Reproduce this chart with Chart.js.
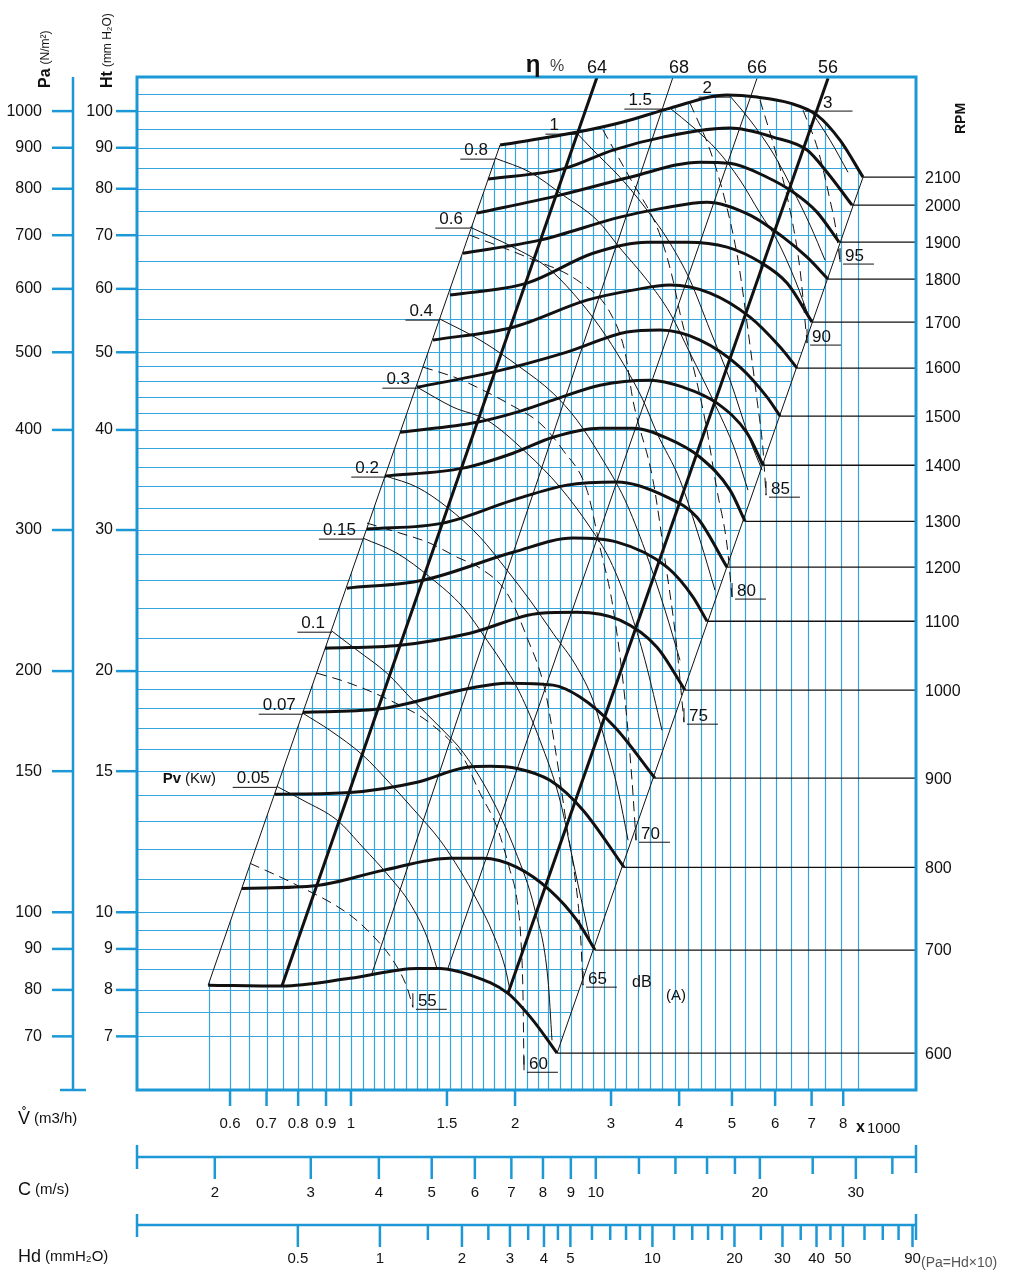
<!DOCTYPE html>
<html>
<head>
<meta charset="utf-8">
<title>Fan performance chart</title>
<script src="https://cdn.jsdelivr.net/npm/chart.js@4.4.1/dist/chart.umd.min.js"></script>
<style>
  html, body { margin: 0; padding: 0; background: #ffffff; }
  #box { position: relative; width: 1024px; height: 1276px; }
</style>
</head>
<body>
<div id="box"><canvas id="fan"></canvas></div>
<script>
// flow in 1000 m3/h, total pressure Ht in mmH2O
const flowTicks = [0.6, 0.7, 0.8, 0.9, 1, 1.5, 2, 3, 4, 5, 6, 7, 8];
const headTicks = [100, 90, 80, 70, 60, 50, 40, 30, 20, 15, 10, 9, 8, 7];
const paTicks = [1000, 900, 800, 700, 600, 500, 400, 300, 200, 150, 100, 90, 80, 70];
const speedTicks = [2, 3, 4, 5, 6, 7, 8, 9, 10, 20, 30];
const speedMinor = [12, 14, 16, 18, 25, 35];
const hdTicks = [0.5, 1, 2, 3, 4, 5, 10, 20, 30, 40, 50, 90];
const hdMinor = [1.5, 2.5, 3.5, 4.5, 6, 7, 8, 9, 12, 14, 16, 18, 25, 35, 45, 60, 70, 80];
const speedPerFlow = 3.555; // C (m/s) per 1000 m3/h
const flowAtHd1 = 1.13;     // flow where Hd = 1 mmH2O

const gridFlow = [0.55, 0.6, 0.65, 0.7, 0.75, 0.8, 0.85, 0.9, 0.95, 1, 1.05, 1.1, 1.15, 1.2, 1.26, 1.32,
  1.38, 1.45, 1.52, 1.59, 1.67, 1.75, 1.83, 1.92, 2, 2.1, 2.2, 2.3, 2.42, 2.53, 2.65, 2.78, 2.91, 3.05,
  3.2, 3.36, 3.54, 3.72, 3.93, 4.15, 4.39, 4.65, 4.96, 5.28, 5.63, 6.02, 6.43, 6.88, 7.4, 7.93, 8.5];
const gridHead = [7, 7.5, 8, 8.5, 9, 9.5, 10, 11, 12, 13, 14, 15, 16, 17, 18, 19, 20, 22, 24, 26, 28, 30,
  32, 34, 36, 38, 40, 42, 44, 46, 48, 50, 55, 60, 65, 70, 75, 80, 85, 90, 95, 100, 105];

// fan curves, [flow, Ht]
const rpm600 = [[0.547, 8.11], [0.747, 8.09], [0.996, 8.27], [1.322, 8.51], [1.457, 8.51], [1.653, 8.35], [1.941, 7.92], [2.158, 7.33], [2.388, 6.67]];
const rpm700 = [[0.631, 10.71], [0.866, 10.80], [1.145, 11.28], [1.519, 11.68], [1.747, 11.68], [2.017, 11.38], [2.318, 10.65], [2.598, 9.77], [2.804, 8.97]];
const rpm800 = [[0.725, 14.04], [0.996, 14.11], [1.322, 14.53], [1.633, 15.17], [1.799, 15.21], [2.017, 15.12], [2.318, 14.61], [2.665, 13.41], [3.17, 11.38]];
const rpm900 = [[0.816, 17.77], [1.121, 17.93], [1.653, 19.04], [1.933, 19.32], [2.348, 19.21], [2.632, 18.56], [3.05, 17.02], [3.612, 14.70]];
const rpm1000 = [[0.896, 21.36], [1.23, 21.54], [1.653, 22.30], [2.222, 23.62], [2.598, 23.69], [3.116, 23.15], [3.643, 21.42], [4.101, 18.93]];
const rpm1100 = [[0.983, 25.38], [1.356, 25.97], [1.983, 28.14], [2.555, 29.31], [3.077, 28.97], [3.801, 26.96], [4.242, 24.74], [4.5, 23.08]];
const rpm1200 = [[1.07, 30.08], [1.475, 30.60], [1.983, 32.69], [2.49, 34.13], [3.077, 34.43], [3.801, 32.97], [4.313, 31.12], [4.897, 26.96]];
const rpm1300 = [[1.154, 35.03], [1.605, 35.84], [1.983, 37.41], [2.348, 39.17], [2.863, 40.20], [3.291, 40.20], [3.801, 39.06], [4.369, 36.98], [4.96, 33.64], [5.284, 30.76]];
const rpm1400 = [[1.23, 39.74], [1.703, 40.90], [2.017, 42.10], [2.348, 43.58], [2.863, 45.49], [3.537, 46.15], [4.067, 45.23], [4.694, 43.20], [5.33, 39.63], [5.702, 36.14]];
const rpm1500 = [[1.322, 45.23], [1.822, 47.23], [2.49, 50.03], [3.209, 52.99], [3.69, 53.30], [4.369, 51.79], [5.173, 47.91], [5.799, 43.95], [6.127, 41.62]];
const rpm1600 = [[1.414, 51.79], [1.983, 53.74], [2.71, 58.08], [3.291, 59.78], [3.849, 60.65], [4.557, 59.27], [5.397, 55.31], [6.127, 50.75], [6.581, 47.78]];
const rpm1700 = [[1.519, 58.94], [2.103, 61.00], [2.78, 66.47], [3.493, 68.62], [4.136, 68.62], [4.897, 67.64], [5.629, 64.80], [6.31, 61.00], [7.014, 54.53]];
const rpm1800 = [[1.605, 66.47], [2.222, 69.02], [3.116, 73.74], [3.737, 75.67], [4.5, 76.98], [5.397, 74.17], [6.205, 69.61], [6.867, 65.71], [7.504, 61.70]];
const rpm1900 = [[1.703, 74.58], [2.418, 78.55], [3.25, 82.69], [4.369, 86.36], [4.96, 86.06], [5.799, 82.69], [6.471, 79.24], [7.161, 74.80], [7.861, 68.62]];
const rpm2000 = [[1.784, 82.27], [2.47, 84.83], [3.025, 89.41], [3.737, 92.80], [4.96, 95.23], [5.947, 92.80], [6.867, 89.41], [7.471, 83.87], [8.305, 76.32]];
const rpm2100 = [[1.877, 90.70], [2.609, 94.15], [3.156, 96.90], [3.849, 100.87], [4.897, 104.71], [5.559, 104.11], [6.39, 102.33], [7.161, 98.86], [7.893, 91.99], [8.699, 82.71]];
const rpmLabels = [600, 700, 800, 900, 1000, 1100, 1200, 1300, 1400, 1500, 1600, 1700, 1800, 1900, 2000, 2100];
const rpmCurves = [rpm600, rpm700, rpm800, rpm900, rpm1000, rpm1100, rpm1200, rpm1300, rpm1400, rpm1500, rpm1600, rpm1700, rpm1800, rpm1900, rpm2000, rpm2100];

const leftEdge = [[0.547, 8.11], [1.877, 90.70]];
const rightEdge = [[2.388, 6.67], [8.699, 82.71]];

// efficiency lines (eta %)
const eta64 = [[0.747, 8.09], [2.828, 110.3]];
const eta68 = [[1.093, 8.39], [3.898, 110.3]];
const eta66 = [[1.506, 8.51], [5.559, 109.9]];
const eta56 = [[1.941, 7.92], [7.504, 109.9]];

// shaft power lines Pv (kW)
const pv005 = [[0.731, 14.36], [0.816, 13.80], [0.943, 13.03], [1.052, 12.05], [1.179, 11.06], [1.283, 10.26], [1.379, 9.31], [1.438, 8.51]];
const pv007 = [[0.816, 17.72], [0.915, 16.87], [1.052, 15.70], [1.179, 14.49], [1.322, 13.29], [1.457, 12.30], [1.585, 11.28], [1.703, 10.35], [1.822, 9.41], [1.917, 8.54], [1.958, 7.99]];
const pv01 = [[0.923, 22.43], [1.026, 21.24], [1.164, 19.88], [1.299, 18.39], [1.457, 17.02], [1.605, 15.84], [1.799, 14.00], [2.0, 11.95], [2.176, 10.06], [2.299, 8.23], [2.338, 6.92]];
const pv015 = [[1.052, 29.31], [1.214, 28.07], [1.396, 26.20], [1.605, 24.03], [1.776, 21.86], [1.933, 20.05], [2.042, 18.77], [2.222, 16.39], [2.418, 13.80], [2.576, 11.28], [2.745, 9.23]];
const pv02 = [[1.159, 35.03], [1.322, 33.93], [1.501, 32.03], [1.725, 29.39], [1.933, 26.73], [2.13, 24.52], [2.348, 22.30], [2.598, 20.22], [2.78, 18.39], [2.924, 16.39], [3.09, 14.20], [3.224, 12.30]];
const pv03 = [[1.322, 45.23], [1.539, 42.71], [1.776, 41.14], [2.103, 37.41], [2.418, 33.93], [2.745, 30.24], [2.987, 27.51], [3.25, 23.82], [3.463, 20.63], [3.721, 16.87]];
const pv04 = [[1.457, 55.0], [1.725, 51.79], [2.042, 47.91], [2.348, 44.45], [2.598, 41.14], [2.863, 37.19], [3.183, 32.69], [3.463, 28.31], [3.769, 23.82], [4.015, 20.63]];
const pv06 = [[1.653, 71.65], [1.983, 67.64], [2.289, 63.86], [2.555, 59.27], [2.863, 53.74], [3.156, 48.45], [3.434, 43.58], [3.643, 39.63], [4.015, 34.61], [4.369, 29.14], [4.655, 25.23]];
const pv08 = [[1.837, 87.36], [2.13, 83.90], [2.449, 78.55], [2.828, 73.10], [3.116, 67.45], [3.493, 61.52], [3.849, 55.95], [4.188, 49.88], [4.616, 43.58], [5.066, 37.74], [5.35, 33.64]];
const pv1 = [[2.598, 93.86], [2.78, 89.41], [3.116, 82.69], [3.493, 75.24], [3.849, 68.42], [4.188, 61.52], [4.557, 53.30], [4.96, 46.15], [5.397, 38.84], [5.68, 35.63]];
const pv15 = [[3.849, 100.87], [4.242, 95.50], [4.694, 89.41], [5.173, 82.03], [5.629, 74.58], [6.05, 69.02], [6.53, 61.52], [6.955, 54.84]];
const pv2 = [[4.96, 104.4], [5.397, 97.45], [5.947, 88.63], [6.471, 79.68], [6.955, 72.07], [7.408, 65.16]];
const pv3 = [[7.044, 99.15], [7.567, 91.99], [8.165, 83.87]];
const pvLabels = ["0.05", "0.07", "0.1", "0.15", "0.2", "0.3", "0.4", "0.6", "0.8", "1", "1.5", "2", "3"];
const pvCurves = [pv005, pv007, pv01, pv015, pv02, pv03, pv04, pv06, pv08, pv1, pv15, pv2, pv3];

// sound level lines dB(A)
const db55 = [[0.653, 11.51], [0.783, 10.87], [0.996, 9.92], [1.116, 9.23], [1.194, 8.71], [1.267, 8.06], [1.299, 7.61]];
const db60 = [[0.866, 19.88], [0.983, 19.37], [1.179, 18.39], [1.396, 17.22], [1.605, 15.61], [1.725, 14.08], [1.853, 12.77], [1.958, 11.28], [2.017, 10.35], [2.052, 9.15], [2.068, 7.92], [2.077, 6.35]];
const db65 = [[1.07, 30.60], [1.214, 29.82], [1.396, 28.89], [1.565, 27.75], [1.725, 26.89], [1.933, 25.02], [2.103, 22.04], [2.27, 18.93], [2.388, 15.48], [2.49, 12.77], [2.576, 11.06], [2.632, 9.58], [2.665, 8.11]];
const db70 = [[1.356, 47.91], [1.565, 46.42], [1.747, 44.84], [1.983, 42.83], [2.222, 40.78], [2.449, 37.74], [2.71, 33.64], [2.863, 28.56], [3.025, 24.03], [3.183, 18.39], [3.278, 14.61], [3.334, 12.30]];
const db75 = [[1.653, 70.01], [2.103, 65.71], [2.632, 61.16], [2.99, 56.0], [3.183, 50.0], [3.291, 43.58], [3.582, 34.61], [3.769, 27.51], [3.948, 21.86], [4.083, 17.27]];
const db80 = [[2.9, 94.69], [3.25, 82.49], [3.643, 71.65], [3.801, 65.71], [3.898, 61.52], [4.015, 55.95], [4.188, 49.88], [4.463, 41.14], [4.694, 33.64], [4.897, 28.72], [5.002, 24.74]];
const db85 = [[4.188, 102.33], [4.557, 89.41], [4.856, 77.42], [5.13, 65.16], [5.35, 53.30], [5.559, 43.58], [5.702, 37.74], [5.774, 33.16]];
const db90 = [[5.629, 103.2], [5.998, 89.41], [6.39, 75.24], [6.667, 63.32], [6.867, 51.34]];
const db95 = [[6.751, 100.3], [7.193, 89.41], [7.567, 77.42], [7.762, 71.03], [7.893, 64.80]];
const dbLabels = ["55", "60", "65", "70", "75", "80", "85", "90", "95"];
const dbCurves = [db55, db60, db65, db70, db75, db80, db85, db90, db95];

const BLUE = "#1b98d5";
const GRID = "#35a5dc";
const INK = "#111111";
const FONT = '"Liberation Sans", Arial, sans-serif';

const datasets = [];
function addLine(arr, width, smooth, dash) {
  datasets.push({
    data: arr.map(p => ({ x: p[0], y: p[1] })),
    borderColor: INK,
    backgroundColor: INK,
    borderWidth: width,
    borderDash: dash || [],
    pointRadius: 0,
    fill: false,
    tension: 0,
    cubicInterpolationMode: smooth ? "monotone" : "default",
  });
}

pvCurves.forEach(c => addLine(c, 1, true));
dbCurves.forEach(c => addLine(c, 1, true, [10, 6]));
addLine(leftEdge, 1, false);
addLine(rightEdge, 1, false);
addLine(eta68, 1, false);
addLine(eta66, 1, false);
addLine(eta64, 3, false);
addLine(eta56, 3, false);
rpmCurves.forEach(c => {
  const end = c[c.length - 1];
  addLine([end, [10.88, end[1]]], 1.3, false);
  addLine(c, 3, true);
});

function seg(ctx, x1, y1, x2, y2) {
  ctx.beginPath();
  ctx.moveTo(x1, y1);
  ctx.lineTo(x2, y2);
  ctx.stroke();
}
function put(ctx, s, x, y, size, align, base, weight, color) {
  ctx.font = (weight || "normal") + " " + size + "px " + FONT;
  ctx.textAlign = align || "left";
  ctx.textBaseline = base || "middle";
  ctx.fillStyle = color || INK;
  ctx.fillText(s, x, y);
  return ctx.measureText(s).width;
}
function parts(ctx, list, x, y, rotate) {
  ctx.save();
  ctx.translate(x, y);
  if (rotate) ctx.rotate(-Math.PI / 2);
  let cx = 0;
  list.forEach(([s, size, weight]) => {
    cx += put(ctx, s, cx, 0, size, "left", "middle", weight) + 4;
  });
  ctx.restore();
}

// graph paper, clipped to the fan field like the printed sheet
const paper = {
  id: "paper",
  beforeDatasetsDraw(chart) {
    const { ctx, chartArea: a, scales: { x, y } } = chart;
    const P = p => [x.getPixelForValue(p[0]), y.getPixelForValue(p[1])];
    const atY = (p, q, yy) => p[0] + (q[0] - p[0]) * (yy - p[1]) / (q[1] - p[1]);
    const lb0 = P(leftEdge[0]), lb1 = P(leftEdge[1]);
    const rb0 = P(rightEdge[0]), rb1 = P(rightEdge[1]);
    const top = rpm2100.map(P);
    let pk = 0;
    rpm2100.forEach((p, i) => { if (p[1] > rpm2100[pk][1]) pk = i; });

    ctx.save();
    ctx.strokeStyle = GRID;
    ctx.lineWidth = 1.2;

    ctx.save();
    ctx.beginPath();
    ctx.moveTo(atY(lb0, lb1, a.bottom), a.bottom);
    top.forEach(p => ctx.lineTo(p[0], p[1]));
    ctx.lineTo(top[top.length - 1][0], a.bottom);
    ctx.closePath();
    ctx.clip();
    ctx.beginPath();
    gridFlow.forEach(q => {
      const xx = Math.round(x.getPixelForValue(q)) + 0.5;
      ctx.moveTo(xx, a.top);
      ctx.lineTo(xx, a.bottom);
    });
    ctx.stroke();
    ctx.restore();

    ctx.save();
    ctx.beginPath();
    ctx.moveTo(a.left, a.top);
    ctx.lineTo(top[pk][0], a.top);
    for (let i = pk; i < top.length; i++) ctx.lineTo(top[i][0], top[i][1]);
    ctx.lineTo(rb1[0], rb1[1]);
    ctx.lineTo(rb0[0], rb0[1]);
    ctx.lineTo(atY(rb0, rb1, a.bottom), a.bottom);
    ctx.lineTo(a.left, a.bottom);
    ctx.closePath();
    ctx.clip();
    ctx.beginPath();
    gridHead.forEach(h => {
      const yy = Math.round(y.getPixelForValue(h)) + 0.5;
      ctx.moveTo(a.left, yy);
      ctx.lineTo(a.right, yy);
    });
    ctx.stroke();
    ctx.restore();

    ctx.restore();
  },
};

const texts = {
  id: "texts",
  afterDraw(chart) {
    const { ctx, chartArea: a, scales: { x, y } } = chart;
    const P = p => [x.getPixelForValue(p[0]), y.getPixelForValue(p[1])];
    ctx.save();

    // frame and scales
    ctx.strokeStyle = BLUE;
    ctx.lineWidth = 3;
    ctx.strokeRect(a.left, a.top, a.right - a.left, a.bottom - a.top);
    ctx.lineWidth = 2.5;
    seg(ctx, 73, a.top, 73, a.bottom + 1);
    seg(ctx, 60, a.bottom, 86, a.bottom);
    headTicks.forEach((h, i) => {
      const yy = y.getPixelForValue(h);
      ctx.strokeStyle = BLUE;
      seg(ctx, 116, yy, a.left, yy);
      seg(ctx, 52, yy, 73, yy);
      put(ctx, String(h), 113, yy, 16, "right");
      put(ctx, String(paTicks[i]), 42, yy, 16, "right");
    });
    parts(ctx, [["Ht", 16, "bold"], ["(mm H\u2082O)", 12]], 108, 88, true);
    parts(ctx, [["Pa", 16, "bold"], ["(N/m\u00b2)", 12]], 46, 88, true);
    parts(ctx, [["RPM", 14, "bold"]], 961, 134, true);

    flowTicks.forEach(q => {
      const xx = x.getPixelForValue(q);
      ctx.strokeStyle = BLUE;
      seg(ctx, xx, a.bottom, xx, a.bottom + 16);
      put(ctx, String(q), xx, 1124, 15, "center");
    });
    put(ctx, "x", 856, 1128, 16, "left", "middle", "bold");
    put(ctx, "1000", 867, 1129, 15);
    parts(ctx, [["V\u030a", 18], ["(m3/h)", 15]], 18, 1119);

    const cy = 1157;
    ctx.strokeStyle = BLUE;
    seg(ctx, a.left, cy, a.right, cy);
    seg(ctx, a.left, cy - 12, a.left, cy + 12);
    seg(ctx, a.right, cy - 12, a.right, cy + 16);
    speedTicks.forEach(c => {
      const xx = x.getPixelForValue(c / speedPerFlow);
      ctx.strokeStyle = BLUE;
      seg(ctx, xx, cy, xx, cy + 22);
      put(ctx, String(c), xx, 1193, 15, "center");
    });
    ctx.strokeStyle = BLUE;
    speedMinor.forEach(c => {
      const xx = x.getPixelForValue(c / speedPerFlow);
      seg(ctx, xx, cy, xx, cy + 17);
    });
    parts(ctx, [["C", 18], ["(m/s)", 15]], 18, 1190);

    const hy = 1225;
    ctx.strokeStyle = BLUE;
    seg(ctx, a.left, hy, a.right, hy);
    seg(ctx, a.left, hy - 11, a.left, hy + 12);
    seg(ctx, a.right, hy - 11, a.right, hy + 15);
    hdTicks.forEach(d => {
      const xx = x.getPixelForValue(flowAtHd1 * Math.sqrt(d));
      ctx.strokeStyle = BLUE;
      seg(ctx, xx, hy, xx, hy + 22);
      put(ctx, String(d), xx, 1259, 15, "center");
    });
    ctx.strokeStyle = BLUE;
    hdMinor.forEach(d => {
      const xx = x.getPixelForValue(flowAtHd1 * Math.sqrt(d));
      seg(ctx, xx, hy, xx, hy + 15);
    });
    parts(ctx, [["Hd", 18], ["(mmH\u2082O)", 15]], 18, 1257);
    put(ctx, "(Pa=Hd\u00d710)", 921, 1263, 14, "left", "middle", "normal", "#555");

    // rpm labels
    ctx.strokeStyle = INK;
    rpmCurves.forEach((c, i) => {
      const yy = y.getPixelForValue(c[c.length - 1][1]);
      put(ctx, String(rpmLabels[i]), a.right + 9, yy + 1, 16);
    });

    // power labels
    ctx.lineWidth = 1;
    pvCurves.forEach((c, i) => {
      const [sx, sy] = P(c[0]);
      const s = pvLabels[i];
      ctx.font = "17px " + FONT;
      const w = ctx.measureText(s).width;
      if (s === "3") {
        put(ctx, s, sx + 10, sy - 6, 17, "left", "alphabetic");
        seg(ctx, sx - 8, sy - 3, sx + 30 + w, sy - 3);
      } else {
        const gap = Number(s) >= 1 ? 18 : 7;
        put(ctx, s, sx - gap, sy - 3, 17, "right", "alphabetic");
        seg(ctx, sx - gap - w - 4, sy + 1, sx, sy + 1);
      }
    });
    const p0 = P(pv005[0]);
    ctx.font = "17px " + FONT;
    const w005 = ctx.measureText("0.05").width;
    parts(ctx, [["Pv", 15, "bold"], ["(Kw)", 15]], p0[0] - 7 - w005 - 74, p0[1] - 8);

    // sound labels
    dbCurves.forEach((c, i) => {
      const [ex, ey] = P(c[c.length - 1]);
      seg(ctx, ex, ey - 14, ex, ey);
      const w = put(ctx, dbLabels[i], ex + 5, ey - 1, 17, "left", "alphabetic");
      seg(ctx, ex + 3, ey + 2, ex + 5 + w + 10, ey + 2);
    });
    const e65 = P(db65[db65.length - 1]);
    put(ctx, "dB", e65[0] + 49, e65[1] - 3, 16);
    put(ctx, "(A)", e65[0] + 83, e65[1] + 11, 15);

    // efficiency labels
    const tops = [eta64, eta68, eta66, eta56].map(l => P(l[1])[0]);
    ["64", "68", "66", "56"].forEach((s, i) => put(ctx, s, tops[i] + (i === 1 ? 6 : 0), a.top - 9, 18, "center"));
    put(ctx, "\u03b7", tops[0] - 64, a.top - 12, 24, "center", "middle", "bold");
    put(ctx, "%", tops[0] - 40, a.top - 10, 16, "center", "middle", "normal", "#444");

    ctx.restore();
  },
};

new Chart(document.getElementById("fan").getContext("2d"), {
  type: "line",
  data: { datasets: datasets },
  options: {
    responsive: true,
    maintainAspectRatio: false,
    animation: false,
    layout: { padding: { left: 137, top: 77, right: 108, bottom: 186 } },
    plugins: {
      legend: { display: false },
      tooltip: { enabled: false },
    },
    scales: {
      x: { type: "logarithmic", min: 0.405, max: 10.88, display: false },
      y: { type: "logarithmic", min: 6.0, max: 110.3, display: false },
    },
  },
  plugins: [paper, texts],
});
</script>
</body>
</html>
